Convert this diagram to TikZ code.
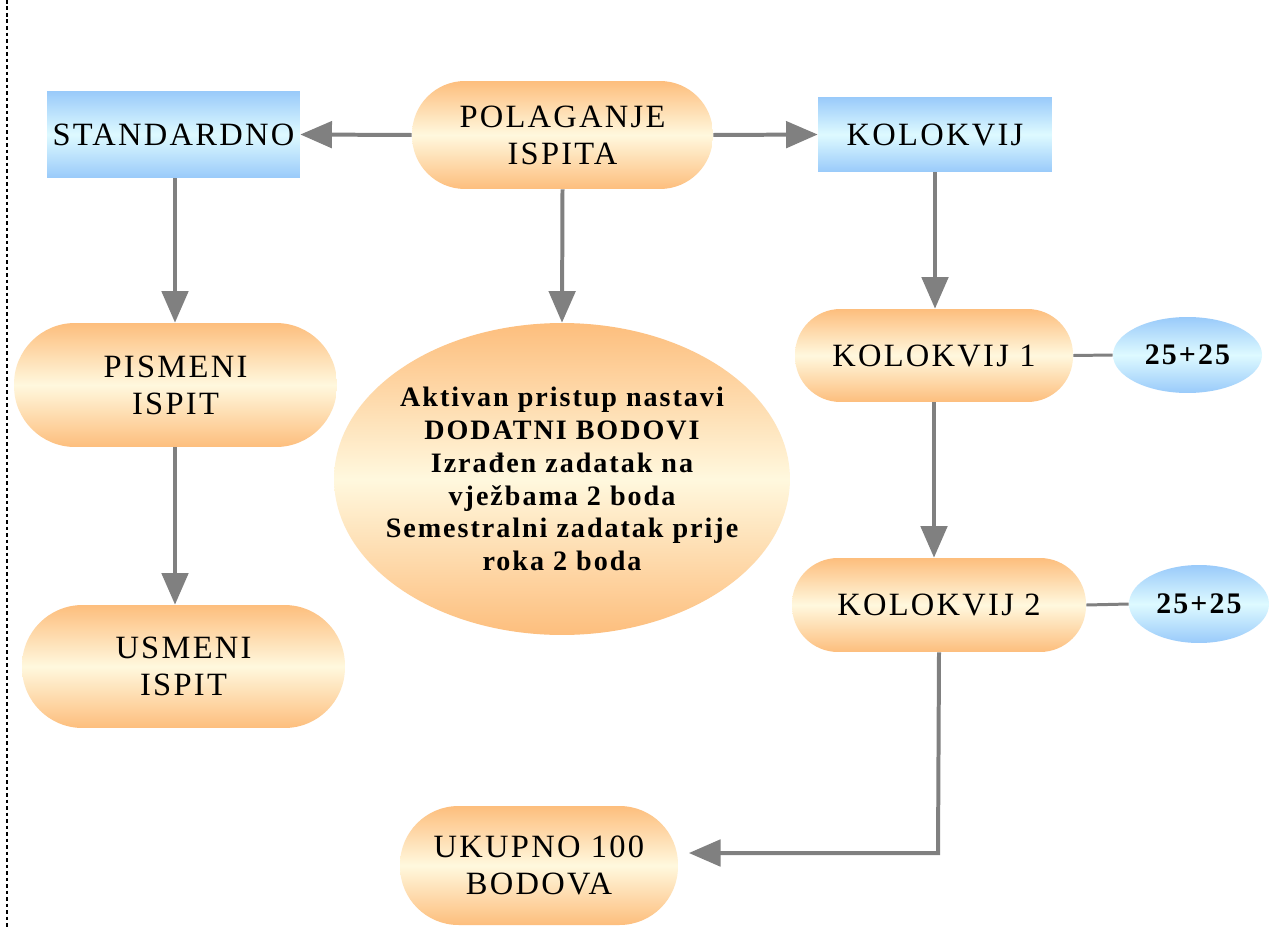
\documentclass[tikz,border=0pt]{standalone}
\usepackage{fontspec}
\setmainfont{Liberation Serif}
\newfontfamily\boxfont{Liberation Serif}[LetterSpace=7]
\newfontfamily\boldfont{Liberation Serif}[LetterSpace=7,UprightFont=* Bold]
\usetikzlibrary{arrows.meta,shapes.geometric,calc}
\definecolor{orEdge}{RGB}{253,190,125}
\definecolor{orMid}{RGB}{255,248,222}
\definecolor{blEdge}{RGB}{153,202,250}
\definecolor{blMid}{RGB}{222,250,255}
\definecolor{arrowgray}{RGB}{128,128,128}
\tikzset{
  orangefill/.style={top color=orEdge,bottom color=orEdge,middle color=orMid},
  bluefill/.style={top color=blEdge,bottom color=blEdge,middle color=blMid},
  boxtext/.style={font=\boxfont\fontsize{18.5}{21}\selectfont,align=center,text=black},
  bluebox/.style={rectangle,bluefill,inner sep=0pt,boxtext},
  pill/.style={rectangle,orangefill,inner sep=0pt,boxtext},
  bigoval/.style={ellipse,orangefill,inner sep=0pt},
  bigtext/.style={align=center,inner sep=0pt,font=\boldfont\fontsize{16}{18.7}\selectfont},
  scoreoval/.style={ellipse,bluefill,inner sep=0pt,font=\boldfont\fontsize{17}{19}\selectfont},
  flow/.style={draw=arrowgray,line width=2.27pt,-{Triangle[length=18pt,width=15pt]}},
  link/.style={draw=arrowgray,line width=1.7pt},
}
\begin{document}
\begin{tikzpicture}[x=0.02cm,y=-0.02cm]
\useasboundingbox[fill=white] (0,0) rectangle (1270,929);
\draw[black,line width=0.85pt,dash pattern=on 2pt off 1.7pt] (7,0) -- (7,929);

\node[bluebox,minimum width=5.06cm,minimum height=1.74cm] (std) at (173.5,134.5) {STANDARDNO};
\node[pill,minimum width=6.02cm,minimum height=2.16cm,rounded corners=1.06cm] (pol) at (562.5,135) {POLAGANJE\\ISPITA};
\node[bluebox,minimum width=4.68cm,minimum height=1.5cm] (kol) at (935,134.5) {KOLOKVIJ};
\node[pill,minimum width=6.46cm,minimum height=2.48cm,rounded corners=1.22cm] (pis) at (175.5,385) {PISMENI\\ISPIT};
\node[pill,minimum width=6.46cm,minimum height=2.46cm,rounded corners=1.21cm] (usm) at (183.5,666.5) {USMENI\\ISPIT};
\node[bigoval,minimum width=9.12cm,minimum height=6.24cm] (big) at (562,479) {};
\node[bigtext] (bigt) at (big.center) {Aktivan pristup nastavi\\DODATNI BODOVI\\Izrađen zadatak na\\vježbama 2 boda\\Semestralni zadatak prije\\roka 2 boda};
\node[pill,minimum width=5.56cm,minimum height=1.86cm,rounded corners=0.91cm] (k1) at (934,355.5) {KOLOKVIJ 1};
\node[scoreoval,minimum width=2.98cm,minimum height=1.52cm] (e1) at (1187.5,355) {25+25};
\node[pill,minimum width=5.88cm,minimum height=1.88cm,rounded corners=0.92cm] (k2) at (939,605) {KOLOKVIJ 2};
\node[scoreoval,minimum width=2.8cm,minimum height=1.56cm] (e2) at (1199,604) {25+25};
\node[pill,minimum width=5.56cm,minimum height=2.38cm,rounded corners=1.17cm] (uk) at (539,865.5) {UKUPNO 100\\BODOVA};

\draw[flow] (pol.west) -- (std.east);
\draw[flow] (pol.east) -- (kol.west);
\draw[flow] ([xshift=0.03cm]std.south) -- ([xshift=0.03cm]std.south |- pis.north);
\draw[flow] ([xshift=-0.01cm]pis.south) -- ([xshift=-0.01cm]pis.south |- usm.north);
\draw[flow] (pol.south) -- (big.north);
\draw[flow] (kol.south) -- (kol.south |- k1.north);
\draw[flow] (k1.south) -- (k1.south |- k2.north);
\draw[link] (k1.east) -- (e1.west);
\draw[link] (k2.east) -- (e2.west);
\coordinate (turn) at (938,853);
\draw[flow,shorten >=6pt] (k2.south) -- (turn) -- (turn -| uk.east);
\end{tikzpicture}
\end{document}
